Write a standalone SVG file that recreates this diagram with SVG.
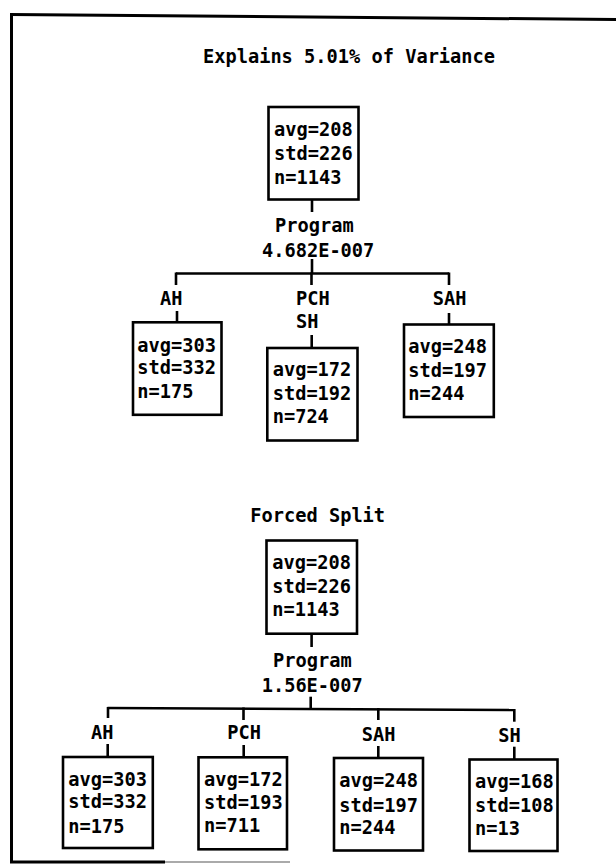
<svg xmlns="http://www.w3.org/2000/svg" width="616" height="865" viewBox="0 0 616 865">
<style>
text{font-family:"DejaVu Sans Mono","Liberation Mono",monospace;font-weight:bold;font-size:18.67px;fill:#000}
.box{fill:#fff;stroke:#000;stroke-width:2.6}
.ln{stroke:#000;stroke-width:2.6;fill:none}
.frame{stroke:#000;stroke-width:3;fill:none}
</style>
<rect width="616" height="865" fill="#fff"/>
<g id="frame">
<line class="frame" x1="11.5" y1="13" x2="11.5" y2="862"/>
<line class="frame" x1="10" y1="14.5" x2="616" y2="19.5"/>
<line class="frame" x1="10" y1="862" x2="165" y2="862"/>
<line x1="165" y1="862" x2="290" y2="862" stroke="#aaa" stroke-width="2"/>
</g>
<g id="title1"><text x="203" y="63.3">Explains 5.01% of Variance</text></g>
<g id="title2"><text x="250.3" y="521.7">Forced Split</text></g>
<g id="connectors">
<line class="ln" x1="312" y1="199" x2="312" y2="212"/>
<line class="ln" x1="312" y1="259" x2="312" y2="273.5"/>
<line class="ln" x1="176" y1="273.5" x2="449" y2="273.5"/>
<line class="ln" x1="176" y1="272.5" x2="176" y2="285"/>
<line class="ln" x1="311.5" y1="272.5" x2="311.5" y2="285"/>
<line class="ln" x1="449" y1="272.5" x2="449" y2="285"/>
<line class="ln" x1="177" y1="311" x2="177" y2="321"/>
<line class="ln" x1="311.7" y1="335" x2="311.7" y2="347"/>
<line class="ln" x1="449" y1="313" x2="449" y2="324"/>
<line class="ln" x1="311.6" y1="633" x2="311.6" y2="647"/>
<line class="ln" x1="310.7" y1="696.7" x2="310.7" y2="709"/>
<line class="ln" x1="107.5" y1="708" x2="514.5" y2="710"/>
<line class="ln" x1="108" y1="707" x2="108" y2="718"/>
<line class="ln" x1="243.5" y1="707.5" x2="243.5" y2="720"/>
<line class="ln" x1="378.3" y1="708" x2="378.3" y2="720"/>
<line class="ln" x1="514.3" y1="709" x2="514.3" y2="721.7"/>
<line class="ln" x1="107.7" y1="744" x2="107.7" y2="757"/>
<line class="ln" x1="243.7" y1="745" x2="243.7" y2="757"/>
<line class="ln" x1="378.3" y1="746" x2="378.3" y2="758"/>
<line class="ln" x1="514.3" y1="746.7" x2="514.3" y2="759"/>
</g>
<g id="split1"><text x="275" y="231.7">Program</text><text x="262" y="256.7">4.682E-007</text></g>
<g id="split2"><text x="273" y="666.5">Program</text><text x="261.7" y="691.7">1.56E-007</text></g>
<g id="root1">
<rect class="box" x="268.5" y="107" width="90" height="92.5"/>
<text x="274" y="136">avg=208</text><text x="274" y="160">std=226</text><text x="274" y="183.5">n=1143</text>
</g>
<g id="n1_AH">
<text x="160" y="305">AH</text>
<rect class="box" x="133" y="322.3" width="88.5" height="92.5"/>
<text x="137.3" y="351.7">avg=303</text><text x="137.3" y="374">std=332</text><text x="137.3" y="398.3">n=175</text>
</g>
<g id="n1_PCHSH">
<text x="296" y="305">PCH</text><text x="296" y="328.3">SH</text>
<rect class="box" x="267.3" y="348" width="90.2" height="92.5"/>
<text x="272.7" y="376">avg=172</text><text x="272.7" y="400">std=192</text><text x="272.7" y="422.7">n=724</text>
</g>
<g id="n1_SAH">
<text x="432.7" y="305">SAH</text>
<rect class="box" x="404" y="324.5" width="89.8" height="92.5"/>
<text x="408.3" y="353.3">avg=248</text><text x="408.3" y="377.3">std=197</text><text x="408.3" y="400">n=244</text>
</g>
<g id="root2">
<rect class="box" x="266.5" y="540.5" width="90.5" height="93.2"/>
<text x="272.3" y="569.3">avg=208</text><text x="272.3" y="593.3">std=226</text><text x="272.3" y="616">n=1143</text>
</g>
<g id="n2_AH">
<text x="91" y="739">AH</text>
<rect class="box" x="63" y="757" width="89.8" height="91"/>
<text x="68.3" y="785.7">avg=303</text><text x="68.3" y="808.3">std=332</text><text x="68.3" y="832.7">n=175</text>
</g>
<g id="n2_PCH">
<text x="227.3" y="739">PCH</text>
<rect class="box" x="198.5" y="757.3" width="88.5" height="92"/>
<text x="204" y="785.7">avg=172</text><text x="204" y="808.5">std=193</text><text x="204" y="832">n=711</text>
</g>
<g id="n2_SAH">
<text x="361.7" y="740.7">SAH</text>
<rect class="box" x="334" y="758" width="89" height="92.5"/>
<text x="339.3" y="787.3">avg=248</text><text x="339.3" y="811.7">std=197</text><text x="339.3" y="834">n=244</text>
</g>
<g id="n2_SH">
<text x="498.3" y="741.7">SH</text>
<rect class="box" x="469.5" y="759.5" width="88" height="91.5"/>
<text x="475" y="788">avg=168</text><text x="475" y="812">std=108</text><text x="475" y="835">n=13</text>
</g>
</svg>
